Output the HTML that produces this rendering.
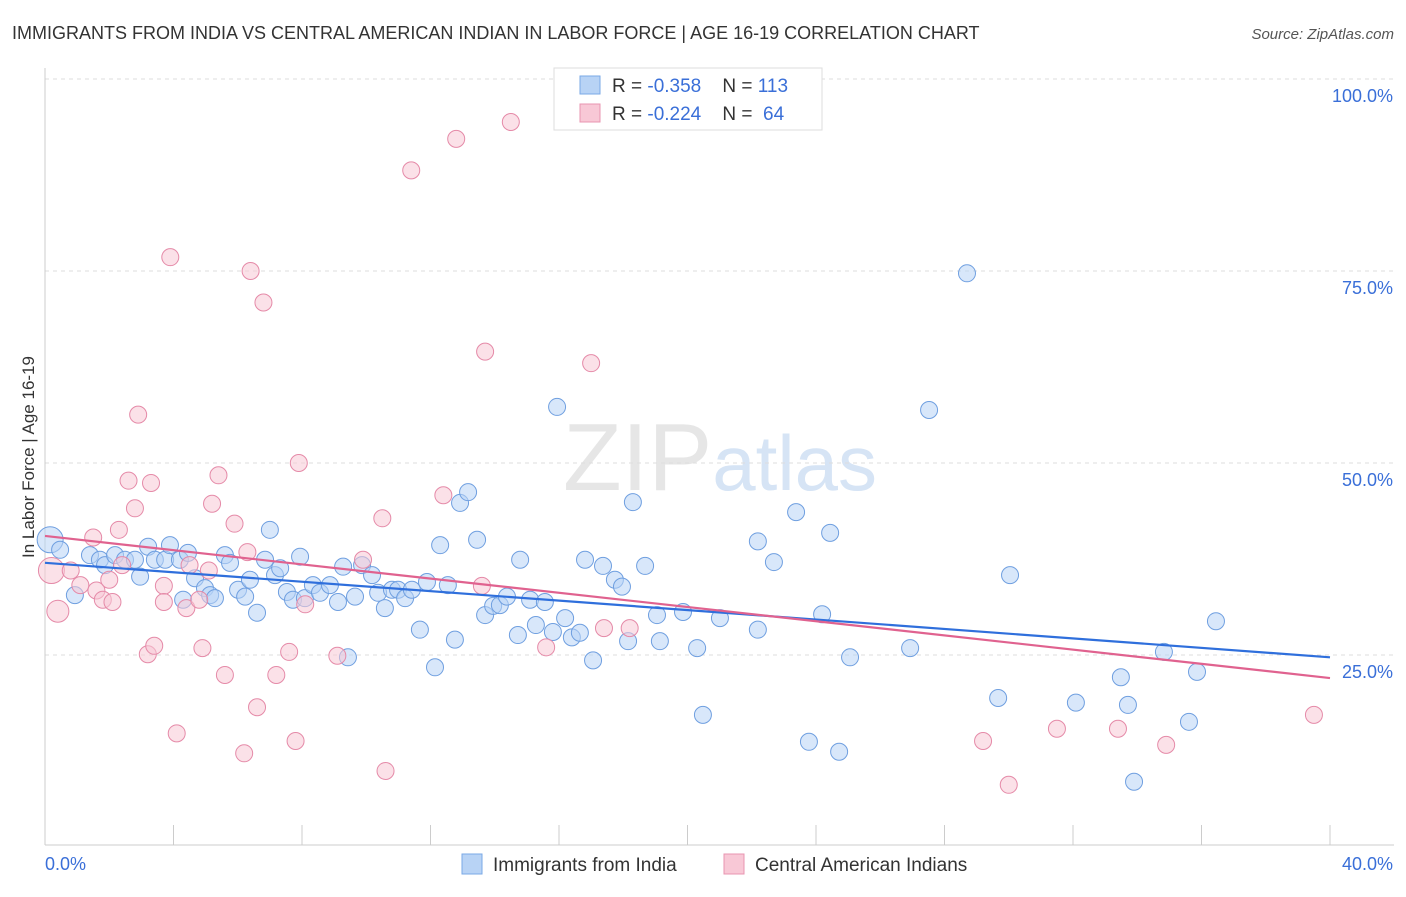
<!DOCTYPE html>
<html><head><meta charset="utf-8"><style>
body{margin:0;background:#fff;font-family:"Liberation Sans",sans-serif;}
svg text{font-family:"Liberation Sans",sans-serif;}
</style></head><body>
<svg id="chart" width="1406" height="892">
<text x="12" y="39" font-size="18" fill="#333">IMMIGRANTS FROM INDIA VS CENTRAL AMERICAN INDIAN IN LABOR FORCE | AGE 16-19 CORRELATION CHART</text>
<text x="1394" y="39" font-size="15" fill="#555" font-style="italic" text-anchor="end">Source: ZipAtlas.com</text>
<text x="720" y="490" font-size="96" fill="#e6e6e6" text-anchor="middle" font-family="Liberation Serif">ZIP<tspan fill="#d6e4f5" font-family="Liberation Sans" font-size="78">atlas</tspan></text>
<g id="grid"></g>
<g id="axes"></g>
<g id="points"></g>
<g id="trends"></g>
<text transform="translate(34,457) rotate(-90)" font-size="17" fill="#333" text-anchor="middle">In Labor Force | Age 16-19</text>
<g>
<rect x="554" y="68" width="268" height="62" fill="#fff" stroke="#ddd"/>
<rect x="580" y="76" width="20" height="18" fill="#b8d3f5" stroke="#7aa8e6"/>
<rect x="580" y="104" width="20" height="18" fill="#f8c8d6" stroke="#e895b0"/>
<text x="612" y="92" font-size="19" fill="#333" xml:space="preserve">R = <tspan fill="#3a6fd8">-0.358</tspan>    N = <tspan fill="#3a6fd8">113</tspan></text>
<text x="612" y="120" font-size="19" fill="#333" xml:space="preserve">R = <tspan fill="#3a6fd8">-0.224</tspan>    N =  <tspan fill="#3a6fd8">64</tspan></text>
</g>
<g>
<rect x="462" y="854" width="20" height="20" fill="#b8d3f5" stroke="#7aa8e6"/>
<text x="493" y="871" font-size="19" fill="#333">Immigrants from India</text>
<rect x="724" y="854" width="20" height="20" fill="#f8c8d6" stroke="#e895b0"/>
<text x="755" y="871" font-size="19" fill="#333">Central American Indians</text>
</g>
</svg>
<script>
const blueX=[0.16,0.47,0.93,1.40,1.71,1.87,2.18,2.49,2.80,2.96,3.21,3.42,3.74,3.89,4.20,4.30,4.45,4.67,4.98,5.14,5.29,5.60,5.76,6.01,6.23,6.38,6.60,6.85,7.00,7.16,7.32,7.53,7.72,7.94,8.09,8.34,8.56,8.87,9.12,9.28,9.43,9.65,9.87,10.18,10.37,10.58,10.80,10.99,11.21,11.42,11.67,11.89,12.14,12.30,12.54,12.76,12.92,13.17,13.45,13.70,13.95,14.16,14.38,14.72,14.79,15.10,15.28,15.56,15.81,15.94,16.19,16.40,16.65,16.81,17.06,17.37,17.74,17.96,18.15,18.30,18.68,19.05,19.14,19.86,20.30,20.48,21.01,22.19,22.19,22.69,23.38,23.78,24.19,24.44,24.72,25.06,26.93,27.52,28.70,29.67,30.04,32.09,33.49,33.71,33.90,34.83,35.61,35.86,36.45];
const blueY=[40.0,38.7,32.8,38.0,37.4,36.7,38.0,37.4,37.4,35.2,39.1,37.4,37.4,39.3,37.4,32.2,38.3,35.0,33.7,32.8,32.4,38.0,37.0,33.5,32.6,34.8,30.5,37.4,41.3,35.4,36.3,33.2,32.2,37.8,32.4,34.1,33.1,34.1,31.9,36.5,24.7,32.6,36.7,35.4,33.1,31.1,33.5,33.5,32.4,33.5,28.3,34.5,23.4,39.3,34.1,27.0,44.8,46.2,40.0,30.2,31.4,31.5,32.6,27.6,37.4,32.2,28.9,31.9,28.0,57.3,29.8,27.3,27.9,37.4,24.3,36.6,34.8,33.9,26.8,44.9,36.6,30.2,26.8,30.6,25.9,17.2,29.8,28.3,39.8,37.1,43.6,13.7,30.3,40.9,12.4,24.7,25.9,56.9,74.7,19.4,35.4,18.8,22.1,18.5,8.5,25.4,16.3,22.8,29.4];
const pinkX=[0.2,0.4,0.8,1.1,1.5,1.6,1.8,2.0,2.1,2.3,2.4,2.6,2.8,2.9,3.2,3.3,3.4,3.7,3.7,3.9,4.1,4.4,4.5,4.8,4.9,5.1,5.2,5.4,5.6,5.9,6.2,6.3,6.4,6.6,6.8,7.2,7.6,7.8,7.9,8.1,9.1,9.9,10.5,10.6,11.4,12.4,12.8,13.6,13.7,14.5,15.6,17.0,17.4,18.2,29.2,30.0,31.5,33.4,34.9,39.5];
const pinkY=[36.0,30.7,36.0,34.1,40.3,33.4,32.2,34.8,31.9,41.3,36.7,47.7,44.1,56.3,25.1,47.4,26.2,34.0,31.9,76.8,14.8,31.1,36.7,32.2,25.9,36.0,44.7,48.4,22.4,42.1,12.2,38.4,75.0,18.2,70.9,22.4,25.4,13.8,50.0,31.6,24.9,37.4,42.8,9.9,88.1,45.8,92.2,34.0,64.5,94.4,26.0,63.0,28.5,28.5,13.8,8.1,15.4,15.4,13.3,17.2];
const bigBlue=[0];const bigPink=[0,1];
const trendBlue=[37.0,24.7];const trendPink=[40.5,22.0];
const xTicks=[0,40];const yTicks=[25,50,75,100];
const X=v=>45+v*(1285/40);const Y=v=>847-v*7.68;
const NS="http://www.w3.org/2000/svg";
function mk(t,a,p){const e=document.createElementNS(NS,t);for(const k in a)e.setAttribute(k,a[k]);p.appendChild(e);return e;}
const grid=document.getElementById('grid'),axes=document.getElementById('axes');
yTicks.forEach(t=>{const l=mk('line',{x1:45,x2:1394,y1:Y(t),y2:Y(t),stroke:'#ddd','stroke-dasharray':'4,4'},grid);


const tx=mk('text',{x:1393,y:Y(t)+23,'font-size':18,fill:'#3a6fd8','text-anchor':'end'},axes);tx.textContent=t.toFixed(1)+'%';

});
const xa=mk('line',{x1:45,x2:1394,y1:845,y2:845,stroke:'#ccc'},axes);


const ya=mk('line',{x1:45,x2:45,y1:68,y2:845,stroke:'#ccc'},axes);


for(let i=0;i<=10;i++){const tk=mk('line',{x1:X(i*4),x2:X(i*4),y1:825,y2:845,stroke:'#ccc'},axes);

}
xTicks.forEach((t,i)=>{const tx=mk('text',{x:i?1393:45,y:870,'font-size':18,fill:'#3a6fd8','text-anchor':i?'end':'start'},axes);tx.textContent=t.toFixed(1)+'%';

});
const pts=document.getElementById('points');
function draw(xs,ys,big,fill,stroke,name){xs.forEach((x,i)=>{const r=big.includes(i)?(i===0?13:11):8.5;
const c=mk('circle',{cx:X(x),cy:Y(ys[i]),r:r,fill:fill,'fill-opacity':0.55,stroke:stroke,'stroke-width':1},pts);

});}
draw(blueX,blueY,bigBlue,'#b8d3f5','#6f9fe0','india-point');
draw(pinkX,pinkY,bigPink,'#f8c8d6','#e58aa8','central-american-point');
const tr=document.getElementById('trends');
const tb=mk('line',{x1:X(0),y1:Y(trendBlue[0]),x2:X(40),y2:Y(trendBlue[1]),stroke:'#2f6fdc','stroke-width':2.2},tr);


const tp=mk('line',{x1:X(0),y1:Y(trendPink[0]),x2:X(40),y2:Y(trendPink[1]),stroke:'#e0628f','stroke-width':2.2},tr);


</script>
</body></html>
